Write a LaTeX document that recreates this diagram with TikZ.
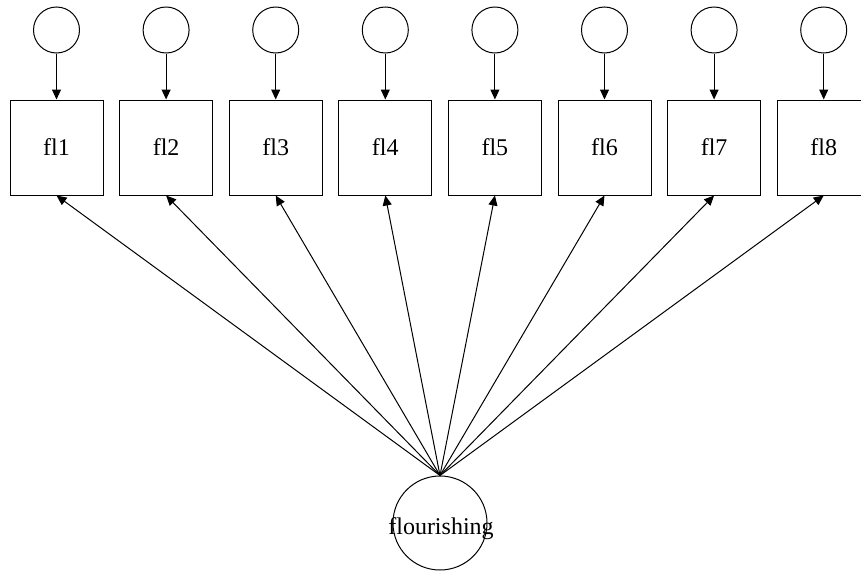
\documentclass[tikz,border=0pt]{standalone}
\usepackage{fontspec}
\setmainfont{Liberation Serif}
\usetikzlibrary{arrows.meta}
\begin{document}
\begin{tikzpicture}[x=1pt,y=-1pt,
  obs/.style={draw,line width=1pt,minimum width=93pt,minimum height=95pt,inner sep=0pt,font=\fontsize{24}{26}\selectfont},
  err/.style={draw,circle,line width=1pt,minimum size=46pt,inner sep=0pt},
  lat/.style={draw,circle,line width=1pt,minimum size=94pt,inner sep=0pt},
  lbl/.style={inner sep=0pt,font=\fontsize{24}{26}\selectfont},
  arr/.style={-{Triangle[length=10pt,width=9pt]},line width=1pt}]
\useasboundingbox (0,0) rectangle (861,573);
\foreach \i in {1,...,8}{
  \pgfmathsetmacro{\xc}{56.5+(\i-1)*109.6}
  \node[obs] (b\i) at (\xc,147.5) {fl\i};
  \node[err] (e\i) at (\xc,30) {};
  \draw[arr] (e\i) -- (b\i);
}
\node[lat] (f) at (440,523) {};
\node[lbl,anchor=base] (ft) at (441,534) {flourishing};
\foreach \i in {1,...,8}{
  \draw[arr] (f.north) -- (b\i.south);
}
\end{tikzpicture}
\end{document}
